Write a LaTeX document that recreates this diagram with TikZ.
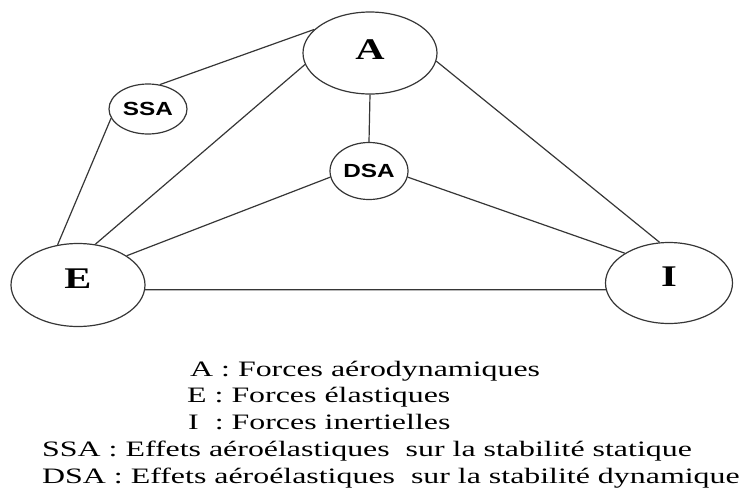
\documentclass[tikz,border=0pt]{standalone}
\usepackage{fontspec}
\setmainfont{Liberation Serif}
\newfontfamily\legendfont{Liberation Serif}[FakeStretch=1.45]
\newfontfamily\forcefont{Liberation Serif}[FakeStretch=1.35]
\newfontfamily\effectfont{Liberation Sans}[FakeStretch=1.28]
\usetikzlibrary{shapes.geometric}
\definecolor{EdgeGray}{HTML}{363636}

\begin{document}
\begin{tikzpicture}[
    x=1pt,y=-1pt,
    force/.style={
      draw=EdgeGray,
      ellipse,
      inner sep=0pt,
      line width=1.2pt,
      text depth=12pt,
      font=\forcefont\fontsize{30}{30}\selectfont\bfseries
    },
    effect/.style={
      draw=EdgeGray,
      ellipse,
      inner sep=0pt,
      line width=1.2pt,
      font=\effectfont\fontsize{19}{19}\selectfont\bfseries
    },
    legend/.style={
      anchor=base west,
      inner sep=0pt,
      font=\legendfont\fontsize{22}{22}\selectfont
    },
    link/.style={draw=EdgeGray,line width=1.2pt}
  ]
    \useasboundingbox (0,0) rectangle (745,488);
    % forces and effects
    \node[force,minimum width=134pt,minimum height=82pt,text depth=6pt] (A) at (370,53) {A};
    \node[effect,minimum width=78pt,minimum height=50pt] (SSA) at (148,109) {SSA};
    \node[effect,minimum width=78pt,minimum height=57pt] (DSA) at (369,171) {DSA};
    \node[force,minimum width=134pt,minimum height=83pt] (E) at (78,285) {E};
    \node[force,minimum width=127pt,minimum height=81pt] (I) at (669,283) {I};
    % connections
    \draw[link] (SSA.64) -- (A.157);
    \draw[link] (SSA.194) -- (E.117);
    \draw[link] (A.190) -- (E.67);
    \draw[link] (A.south) -- (DSA.north);
    \draw[link] (A.-7) -- (I.103);
    \draw[link] (DSA.189) -- (E.31);
    \draw[link] (DSA.-9) -- (I.146);
    \draw[link] (E.-4) -- (I.186);
    % legend
    \node[legend] (legA) at (190,376) {A : Forces aérodynamiques};
    \node[legend] (legE) at (187,402.5) {E : Forces élastiques};
    \node[legend] (legI) at (188,429) {I\ \ : Forces inertielles};
    \node[legend] (legS) at (42,456) {SSA : Effets aéroélastiques\ \ sur la stabilité statique};
    \node[legend] (legD) at (42,483) {DSA : Effets aéroélastiques\ \ sur la stabilité dynamique};
  \end{tikzpicture}
\end{document}
